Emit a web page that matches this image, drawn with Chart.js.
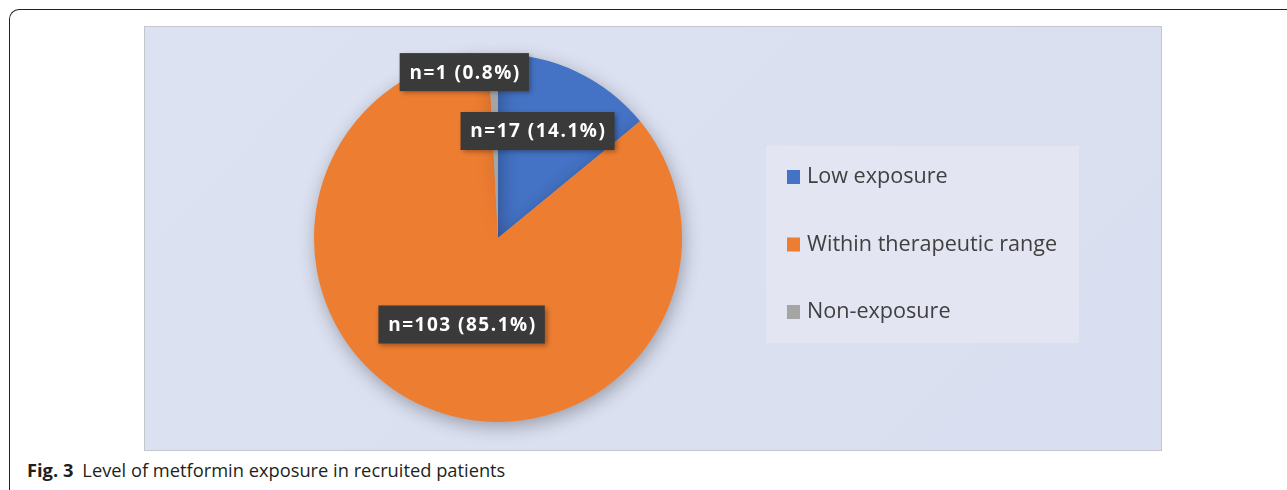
<!DOCTYPE html>
<html>
<head>
<meta charset="utf-8">
<script src="https://cdn.jsdelivr.net/npm/chart.js@4.4.0/dist/chart.umd.min.js"></script>
<style>
  html, body { margin: 0; padding: 0; background: #fff; }
  body { width: 1287px; height: 490px; position: relative; overflow: hidden; }
  #frame {
    position: absolute; left: 9px; top: 9px; width: 1290px; height: 490px;
    border-top: 1.5px solid #222; border-left: 1.5px solid #222;
    border-top-left-radius: 10px;
  }
  #plot {
    position: absolute; left: 144px; top: 26px; width: 1016px; height: 423px;
    border: 1.5px solid #c4c6cc;
    background: linear-gradient(135deg, #dde2f2 0%, #dbe0f1 60%, #d9def0 100%);
  }
  #caption {
    position: absolute; left: 27px; top: 457px;
    font-family: "Open Sans", sans-serif; font-size: 18.3px; color: #231f20;
    white-space: nowrap;
  }
  #caption b { margin-right: 9px; }
</style>
</head>
<body>
<div id="frame"></div>
<div id="plot"><canvas id="pieChart" width="1016" height="423"></canvas></div>
<div id="caption"><b>Fig. 3</b>Level of metformin exposure in recruited patients</div>
<script>
var categories = ["Low exposure", "Within therapeutic range", "Non-exposure"];
var counts = [17, 103, 1];
var percents = [14.1, 85.1, 0.8];
var colors = ["#4472c4", "#ed7d31", "#a5a5a5"];

// where each data label sits: fraction of radius, angle shift (deg)
var labelPos = [
    { r: 0.62, shift: -5 },
    { r: 0.51, shift: -1 },
    { r: 0.92, shift: -10 },
];

var pieShadow = {
    id: "pieShadow",
    beforeDatasetDraw(chart) {
        var ctx = chart.ctx;
        ctx.save();
        ctx.shadowColor = "rgba(0,0,0,0.3)";
        ctx.shadowBlur = 18;
        ctx.shadowOffsetX = 2;
        ctx.shadowOffsetY = 5;
    },
    afterDatasetDraw(chart) {
        chart.ctx.restore();
    },
};

var boxLabels = {
    id: "boxLabels",
    afterDatasetsDraw(chart) {
        var ctx = chart.ctx;
        var meta = chart.getDatasetMeta(0);
        ctx.save();
        ctx.font = "bold 19px 'Open Sans', sans-serif";
        ctx.letterSpacing = "1.5px";
        ctx.textAlign = "center";
        ctx.textBaseline = "middle";
        meta.data.forEach(function (arc, i) {
            var p = arc.getProps(["x", "y", "startAngle", "endAngle", "outerRadius"], true);
            var a = (p.startAngle + p.endAngle) / 2 + labelPos[i].shift * Math.PI / 180;
            var cx = p.x + Math.cos(a) * p.outerRadius * labelPos[i].r;
            var cy = p.y + Math.sin(a) * p.outerRadius * labelPos[i].r;
            var txt = "n=" + counts[i] + " (" + percents[i].toFixed(1) + "%)";
            var w = ctx.measureText(txt).width + 18;
            var h = 38;
            ctx.shadowColor = "rgba(0,0,0,0.35)";
            ctx.shadowBlur = 5;
            ctx.shadowOffsetX = 2;
            ctx.shadowOffsetY = 2;
            ctx.fillStyle = "#3a3a3a";
            ctx.fillRect(cx - w / 2, cy - h / 2, w, h);
            ctx.shadowColor = "transparent";
            ctx.fillStyle = "#ffffff";
            ctx.fillText(txt, cx + 0.75, cy + 1);
        });
        ctx.restore();
    },
};

var sideLegend = {
    id: "sideLegend",
    afterDraw(chart) {
        var ctx = chart.ctx;
        var x0 = 621, y0 = 119, w = 313, h = 197;
        ctx.save();
        ctx.fillStyle = "#e3e6f2";
        ctx.fillRect(x0, y0, w, h);
        ctx.font = "21.6px 'Open Sans', sans-serif";
        ctx.textBaseline = "middle";
        categories.forEach(function (c, i) {
            var y = y0 + 31 + i * 67.5;
            ctx.fillStyle = colors[i];
            ctx.fillRect(x0 + 21, y - 7, 13, 14);
            ctx.fillStyle = "#404040";
            ctx.fillText(c, x0 + 41, y);
        });
        ctx.restore();
    },
};

var ctx = document.getElementById("pieChart");
var myPieChart = new Chart(ctx, {
    type: "pie",
    data: {
        labels: categories,
        datasets: [
            {
                data: counts,
                backgroundColor: colors,
                borderWidth: 0,
            },
        ],
    },
    options: {
        responsive: false,
        animation: false,
        layout: {
            padding: { left: 169, right: 479, top: 27, bottom: 28 },
        },
        plugins: {
            legend: { display: false },
            tooltip: { enabled: false },
        },
    },
    plugins: [pieShadow, boxLabels, sideLegend],
});
</script>
</body>
</html>
